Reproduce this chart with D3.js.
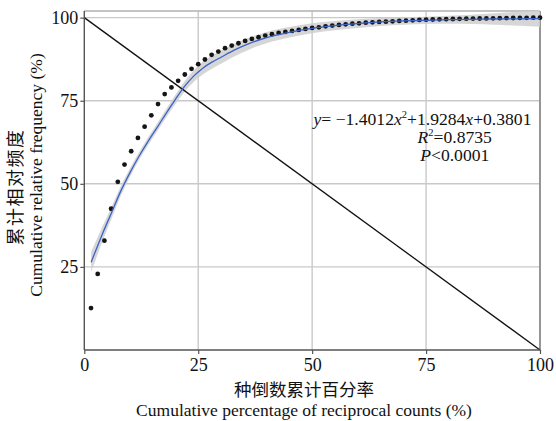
<!DOCTYPE html>
<html>
<head>
<meta charset="utf-8">
<script src="https://cdn.jsdelivr.net/npm/d3@7"></script>
<style>
body{margin:0;background:#fff;}
text{font-family:"Liberation Serif","Times New Roman",serif;fill:#111;}
.cn{font-family:"Noto Sans CJK SC",sans-serif;}
</style>
</head>
<body>
<div id="chart"></div>
<script>
// cumulative relative frequency of each point (%), x = i/68*100
const pointY=[12.6,22.9,32.9,42.5,50.6,55.8,59.8,63.8,67.2,70.6,74.0,77.0,79.0,81.0,82.9,84.6,86.0,87.4,88.8,89.8,
90.8,91.6,92.3,93.0,93.6,94.1,94.6,95.0,95.4,95.7,96.0,96.3,96.6,96.9,97.1,97.4,97.6,97.8,98.0,98.2,
98.3,98.5,98.6,98.7,98.8,98.9,99.0,99.1,99.2,99.3,99.4,99.45,99.5,99.55,99.6,99.65,99.7,99.72,99.75,99.78,
99.8,99.85,99.88,99.9,99.93,99.96,99.98,100];

// fitted smooth curve and its confidence half width
const fitX=[1.5,4,6,8,10,12,14,16,18,20,22,24,26,28,30,33,36,40,45,50,55,60,65,70,75,80,85,90,95,100];
const fitY=[26.4,35.0,41.4,47.8,53.3,58.3,62.8,67.0,71.3,75.4,79.3,82.4,84.8,86.6,88.1,90.3,92.1,94,95.6,96.8,97.6,98.2,98.7,99.0,99.2,99.4,99.5,99.6,99.65,99.7];
const fitSe=[3,2.2,1.8,1.5,1.3,1.2,1.2,1.2,1.3,1.4,1.6,1.8,1.9,2,2,1.9,1.8,1.7,1.6,1.5,1.4,1.3,1.2,1.1,1.1,1.2,1.4,1.7,2.1,2.5];

const ticks=[0,25,50,75,100];

const margin={top:11,right:16,bottom:71,left:84.3};
const W=556,H=421;
const width=W-margin.left-margin.right;
const height=H-margin.top-margin.bottom;

const xscale=d3.scaleLinear().domain([0,100]).range([0,width]);
const yscale=d3.scaleLinear().domain([0,102]).range([height,0]);

const svg=d3.select('#chart').append('svg')
.attr('width',W).attr('height',H)
.append('g')
.attr('transform',`translate(${margin.left},${margin.top})`);

// grid
svg.selectAll('.gx').data(ticks.slice(1)).enter().append('line')
.attr('x1',d=>xscale(d)).attr('x2',d=>xscale(d))
.attr('y1',0).attr('y2',height)
.attr('stroke','#c9c9c9').attr('stroke-width',1.4);
svg.selectAll('.gy').data(ticks.slice(1)).enter().append('line')
.attr('x1',0).attr('x2',width)
.attr('y1',d=>yscale(d)).attr('y2',d=>yscale(d))
.attr('stroke','#c9c9c9').attr('stroke-width',1.4);

// top / right frame
svg.append('line').attr('x1',0).attr('x2',width).attr('y1',0).attr('y2',0)
.attr('stroke','#b0b0b0').attr('stroke-width',1.4);
svg.append('line').attr('x1',width).attr('x2',width).attr('y1',0).attr('y2',height)
.attr('stroke','#7a7a7a').attr('stroke-width',1.4);

// confidence band
const fit=fitX.map((x,i)=>({x:x,y:fitY[i],se:fitSe[i]}));
const band=d3.area().curve(d3.curveCatmullRom)
.x(d=>xscale(d.x))
.y0(d=>yscale(d.y-d.se))
.y1(d=>yscale(d.y+d.se));
svg.append('path').datum(fit)
.attr('d',band).attr('fill','#cfcfcf').attr('opacity',0.85);

// 1:1 diagonal
svg.append('line')
.attr('x1',xscale(0)).attr('y1',yscale(100))
.attr('x2',xscale(100)).attr('y2',yscale(0))
.attr('stroke','#111').attr('stroke-width',1.3);

// points
svg.selectAll('.pt').data(pointY).enter().append('circle')
.attr('cx',(d,i)=>xscale((i+1)/pointY.length*100))
.attr('cy',d=>yscale(d))
.attr('r',2.4)
.attr('fill','#151515');

// fitted line
const line=d3.line().curve(d3.curveCatmullRom)
.x(d=>xscale(d.x)).y(d=>yscale(d.y));
svg.append('path').datum(fit)
.attr('d',line).attr('fill','none')
.attr('stroke','#3b62c4').attr('stroke-width',1.3);

// axes
const xaxis=svg.append('g')
.attr('transform',`translate(0,${height})`)
.call(d3.axisBottom(xscale).tickValues(ticks).tickSize(4).tickPadding(4));
const yaxis=svg.append('g')
.call(d3.axisLeft(yscale).tickValues(ticks.slice(1)).tickSize(4).tickPadding(2));
[xaxis,yaxis].forEach(a=>{
  a.select('.domain').attr('stroke','#555').attr('stroke-width',1.4);
  a.selectAll('.tick line').attr('stroke','#555').attr('stroke-width',1.2);
  a.selectAll('.tick text').attr('font-family','"Liberation Serif",serif')
   .attr('font-size',18).attr('fill','#111');
});
yaxis.select('.domain').attr('d',`M0,${height}V0`);
xaxis.select('.domain').attr('d',`M0,0H${width}`);

// equation
const eq=svg.append('text').attr('x',xscale(50.3)).attr('y',yscale(67.8))
.attr('font-size',17.6);
eq.append('tspan').attr('font-style','italic').text('y');
eq.append('tspan').text('= −1.4012');
eq.append('tspan').attr('font-style','italic').text('x');
eq.append('tspan').attr('font-size',10.5).attr('dy',-6.5).text('2');
eq.append('tspan').attr('dy',6.5).text('+1.9284');
eq.append('tspan').attr('font-style','italic').text('x');
eq.append('tspan').text('+0.3801');

const r2=svg.append('text').attr('x',xscale(81.3)).attr('y',yscale(62.3))
.attr('text-anchor','middle').attr('font-size',17.6);
r2.append('tspan').attr('font-style','italic').text('R');
r2.append('tspan').attr('font-size',10.5).attr('dy',-6.5).text('2');
r2.append('tspan').attr('dy',6.5).text('=0.8735');

const pv=svg.append('text').attr('x',xscale(81.3)).attr('y',yscale(56.9))
.attr('text-anchor','middle').attr('font-size',17.6);
pv.append('tspan').attr('font-style','italic').text('P');
pv.append('tspan').text('<0.0001');

// axis titles
svg.append('text').attr('class','cn')
.attr('x',304-margin.left).attr('y',396-margin.top)
.attr('text-anchor','middle').attr('font-size',17.5)
.text('种倒数累计百分率');
svg.append('text')
.attr('x',304-margin.left).attr('y',416-margin.top)
.attr('text-anchor','middle').attr('font-size',17.5)
.text('Cumulative percentage of reciprocal counts (%)');

svg.append('text').attr('class','cn')
.attr('transform',`translate(${22-margin.left},${187-margin.top}) rotate(-90)`)
.attr('text-anchor','middle').attr('font-size',18).attr('letter-spacing',1.5)
.text('累计相对频度');
svg.append('text')
.attr('transform',`translate(${42-margin.left},${175-margin.top}) rotate(-90)`)
.attr('text-anchor','middle').attr('font-size',17.5)
.text('Cumulative relative frequency (%)');
</script>
</body>
</html>
